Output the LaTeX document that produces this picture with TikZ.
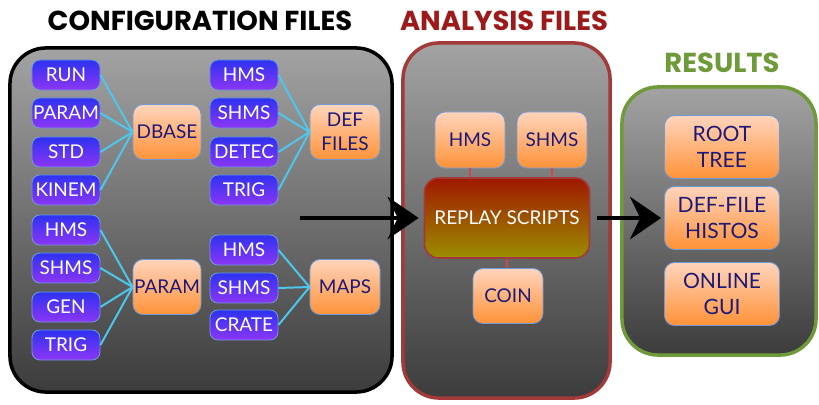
\documentclass[tikz,border=0pt]{standalone}
\usepackage{fontspec}
\setmainfont{Lato}
\newfontfamily\titlefont{Poppins}
\usepackage{tikz}
\usetikzlibrary{arrows.meta, positioning, calc}
\usepackage{xcolor}
\definecolor{panelhi}{HTML}{A3A3A3}
\definecolor{panello}{HTML}{3C3C3C}
\definecolor{bluehi}{HTML}{2E32F2}
\definecolor{bluelo}{HTML}{8C36F4}
\definecolor{orangehi}{HTML}{FFD4BC}
\definecolor{orangelo}{HTML}{FF9238}
\definecolor{boxedge}{HTML}{6E9BD8}
\definecolor{navytext}{HTML}{1C1A78}
\definecolor{feedcyan}{HTML}{4CC8EE}
\definecolor{anared}{HTML}{9C1A1A}
\definecolor{anaedge}{HTML}{A23A3A}
\definecolor{tiered}{HTML}{C84A4A}
\definecolor{resgreen}{HTML}{6E9A3A}
\definecolor{replayhi}{HTML}{A01800}
\definecolor{replaylo}{HTML}{9A8E00}

\begin{document}
\begin{tikzpicture}[>=Stealth, x=0.025cm, y=-0.025cm,
  panel/.style={line width=2.5pt, rounded corners=0.9cm,
    top color=panelhi, bottom color=panello, inner sep=0pt},
  inbox/.style={draw=boxedge, line width=0.6pt, rounded corners=0.2cm,
    top color=bluehi, bottom color=bluelo, text=white,
    font=\fontsize{13.5}{15}\selectfont, inner sep=0pt,
    minimum width=1.7cm, minimum height=0.75cm},
  outbox/.style={draw=boxedge, line width=0.6pt, rounded corners=0.25cm,
    top color=orangehi, bottom color=orangelo, text=navytext,
    font=\fontsize{13.5}{17}\selectfont, align=center, inner sep=0pt,
    minimum width=1.7cm, minimum height=1.375cm},
  feed/.style={feedcyan, line width=1.4pt},
  tie/.style={tiered, line width=1.6pt},
  push/.style={-{Stealth[length=22pt, width=30pt]}, line width=3.5pt},
  heading/.style={font=\titlefont\bfseries\fontsize{19.5}{20}\selectfont}]
  \useasboundingbox (0,0) rectangle (819,405);

  % Panels
  \node[panel, draw=black, minimum width=9.55cm, minimum height=8.6cm]
    (cfg) at (201,220) {};
  \node[panel, draw=anaedge, minimum width=5.175cm, minimum height=8.875cm]
    (ana) at (506.5,220.5) {};
  \node[panel, draw=resgreen, minimum width=4.85cm, minimum height=6.7cm]
    (res) at (719,221) {};

  % Titles
  \node[heading, text=black] (cfgtitle) at (200,21) {CONFIGURATION FILES};
  \node[heading, text=anared] (anatitle) at (504,21) {ANALYSIS FILES};
  \node[heading, text=resgreen] (restitle) at (722,63) {RESULTS};

  % Configuration files: dbase
  \node[inbox] (run) at (66,75) {RUN};
  \node[inbox] (param) at (66,113) {PARAM};
  \node[inbox] (std) at (66,152) {STD};
  \node[inbox] (kinem) at (66,190) {KINEM};
  \node[outbox] (dbase) at (167,132) {DBASE};

  % Configuration files: def files
  \node[inbox] (dhms) at (244,75) {HMS};
  \node[inbox] (dshms) at (244,113) {SHMS};
  \node[inbox] (detec) at (244,152) {DETEC};
  \node[inbox] (dtrig) at (244,190) {TRIG};
  \node[outbox, minimum width=1.75cm] (deffiles) at (345,132) {DEF\\FILES};

  % Configuration files: param
  \node[inbox] (phms) at (66,230) {HMS};
  \node[inbox] (pshms) at (66,268) {SHMS};
  \node[inbox] (gen) at (66,307) {GEN};
  \node[inbox] (ptrig) at (66,345) {TRIG};
  \node[outbox] (pparam) at (167,287) {PARAM};

  % Configuration files: maps
  \node[inbox] (mhms) at (244,250) {HMS};
  \node[inbox] (mshms) at (244,288) {SHMS};
  \node[inbox] (crate) at (244,325) {CRATE};
  \node[outbox, minimum width=1.75cm] (maps) at (345,287) {MAPS};

  \foreach \n in {run,param,std,kinem}
    \draw[feed] (\n.east) -- (dbase.west);
  \foreach \n in {dhms,dshms,detec,dtrig}
    \draw[feed] (\n.east) -- (deffiles.west);
  \foreach \n in {phms,pshms,gen,ptrig}
    \draw[feed] (\n.east) -- (pparam.west);
  \foreach \n in {mhms,mshms,crate}
    \draw[feed] (\n.east) -- (maps.west);

  % Analysis files
  \node[outbox, minimum width=1.75cm, minimum height=1.4cm] (ahms) at (470,140) {HMS};
  \node[outbox, minimum width=1.75cm, minimum height=1.4cm] (ashms) at (552,140) {SHMS};
  \node[draw=anaedge, line width=1.2pt, rounded corners=0.35cm,
    top color=replayhi, bottom color=replaylo, text=white,
    font=\fontsize{13.5}{15}\selectfont, minimum width=4.125cm,
    minimum height=2cm] (replay) at (507,218) {REPLAY SCRIPTS};
  \node[outbox, minimum width=1.75cm] (coin) at (508,296) {COIN};
  \draw[tie] (ahms.south) -- (ahms.south |- replay.north);
  \draw[tie] (ashms.south) -- (ashms.south |- replay.north);
  \draw[tie] (replay.south) -- (replay.south |- coin.north);

  % Results
  \node[outbox, font=\fontsize{15}{19}\selectfont, minimum width=2.875cm,
    minimum height=1.575cm] (tree) at (722,147) {ROOT\\TREE};
  \node[outbox, font=\fontsize{15}{19}\selectfont, minimum width=2.875cm,
    minimum height=1.575cm] (histos) at (722,218) {DEF-FILE\\HISTOS};
  \node[outbox, font=\fontsize{15}{19}\selectfont, minimum width=2.875cm,
    minimum height=1.575cm] (gui) at (722,294) {ONLINE\\GUI};

  % Flow
  \coordinate (start) at (300,218);
  \draw[push, shorten >=0.125cm] (start) -- (replay.west);
  \draw[push, shorten <=0.175cm, shorten >=0.075cm] (replay.east) -- (histos.west);
\end{tikzpicture}
\end{document}
